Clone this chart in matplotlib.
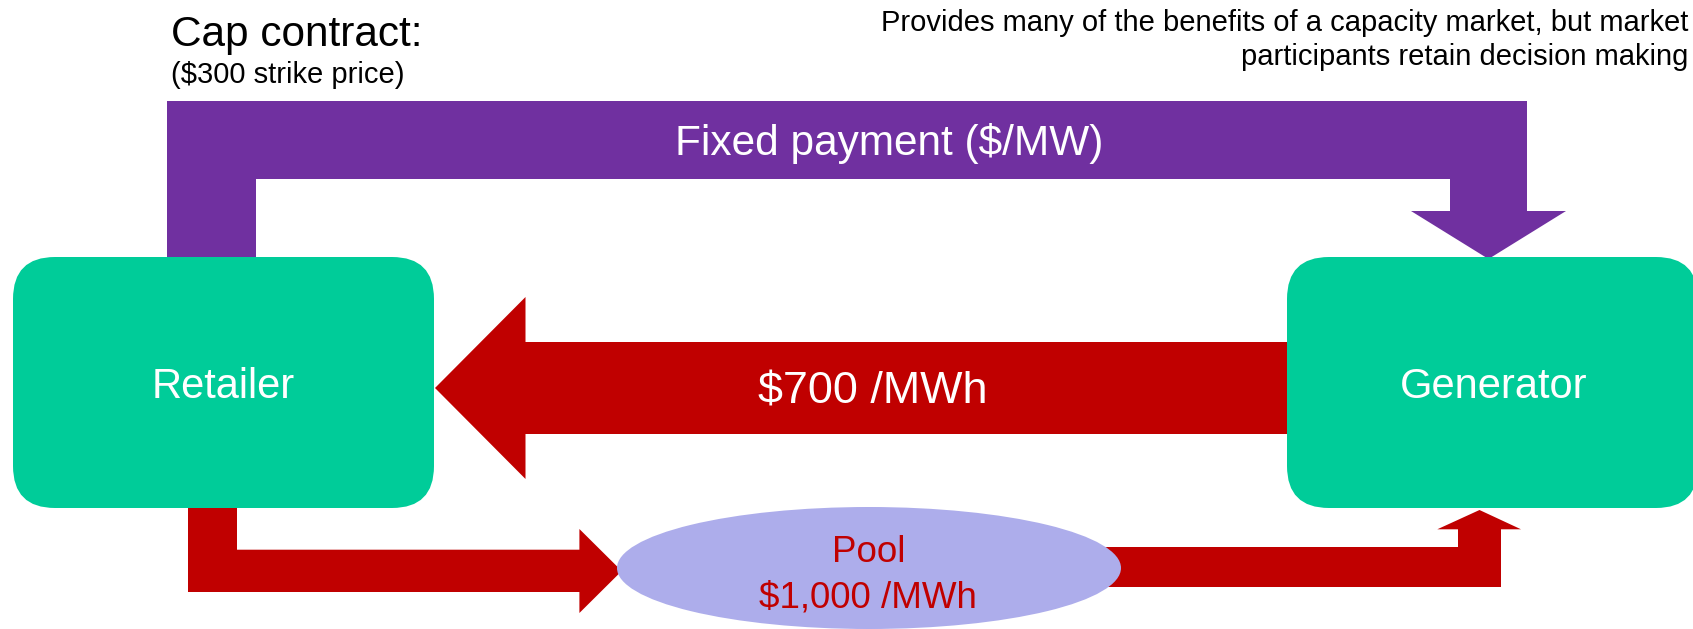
import matplotlib
matplotlib.use("Agg")
import matplotlib.pyplot as plt
from matplotlib.patches import FancyBboxPatch, Polygon, Ellipse

plt.rcParams['font.family'] = ['Liberation Sans', 'DejaVu Sans']

# ---- content ----
node_labels = ["Retailer", "Generator"]
pool_labels = ["Pool", "$1,000 /MWh"]
flow_labels = ["Fixed payment ($/MW)", "$700 /MWh"]
title_lines = ["Cap contract:", "($300 strike price)"]
note_lines = ["Provides many of the benefits of a capacity market, but market",
              "participants retain decision making"]

GREEN = "#00CC99"
PURPLE = "#7030A0"
RED = "#C00000"
LAVENDER = "#ADADEB"

W, H = 1693, 629
fig = plt.figure(figsize=(W / 100, H / 100), dpi=100)
ax = fig.add_axes([0, 0, 1, 1])
ax.set_xlim(0, W)
ax.set_ylim(H, 0)
ax.axis("off")

# purple elbow arrow (fixed payment)
purple = [(167, 258), (167, 101), (1527, 101), (1527, 211), (1566, 211),
          (1488.5, 259), (1411, 211), (1450, 211), (1450, 179), (256, 179), (256, 258)]
ax.add_patch(Polygon(purple, closed=True, facecolor=PURPLE, edgecolor="none", zorder=1))

# red arrow generator -> retailer
red_left = [(1300, 342), (525.5, 342), (525.5, 297), (435, 388), (525.5, 479),
            (525.5, 434), (1300, 434)]
ax.add_patch(Polygon(red_left, closed=True, facecolor=RED, edgecolor="none", zorder=1))

# red elbow retailer -> pool
red_bl = [(188, 500), (237, 500), (237, 549.7), (579.4, 549.7), (579.4, 529),
          (621.7, 571), (579.4, 613), (579.4, 592), (188, 592)]
ax.add_patch(Polygon(red_bl, closed=True, facecolor=RED, edgecolor="none", zorder=1))

# red elbow pool -> generator
red_br = [(869, 547), (1458, 547), (1458, 529.3), (1437.3, 529.3), (1479.5, 510),
          (1521, 529.3), (1501, 529.3), (1501, 587), (869, 587)]
ax.add_patch(Polygon(red_br, closed=True, facecolor=RED, edgecolor="none", zorder=1))

# boxes
for (x0, x1) in [(13, 434), (1287, 1698)]:
    ax.add_patch(FancyBboxPatch((x0, 257), x1 - x0, 251,
                                boxstyle="round,pad=0,rounding_size=42",
                                facecolor=GREEN, edgecolor="none", zorder=2))

# pool ellipse
ax.add_patch(Ellipse((869, 568), 504, 122, facecolor=LAVENDER, edgecolor="none", zorder=2))

# texts
ax.text(223.5, 398, node_labels[0], color="white", fontsize=30, ha="center", va="baseline", zorder=3)
ax.text(1494, 398, node_labels[1], color="white", fontsize=30, ha="center", va="baseline", zorder=3)
ax.text(869, 562, pool_labels[0], color=RED, fontsize=26.5, ha="center", va="baseline", zorder=3)
ax.text(868, 607, pool_labels[1], color=RED, fontsize=26.5, ha="center", va="baseline", zorder=3)
ax.text(889, 155, flow_labels[0], color="white", fontsize=30.5, ha="center", va="baseline", zorder=3)
ax.text(873, 403, flow_labels[1], color="white", fontsize=32.3, ha="center", va="baseline", zorder=3)
ax.text(171, 46, title_lines[0], color="black", fontsize=30.5, ha="left", va="baseline", zorder=3)
ax.text(171, 83, title_lines[1], color="black", fontsize=21, ha="left", va="baseline", zorder=3)
ax.text(1688, 31, note_lines[0], color="black", fontsize=21, ha="right", va="baseline", zorder=3)
ax.text(1688, 65, note_lines[1], color="black", fontsize=21, ha="right", va="baseline", zorder=3)

fig.savefig("out.png", dpi=100)
